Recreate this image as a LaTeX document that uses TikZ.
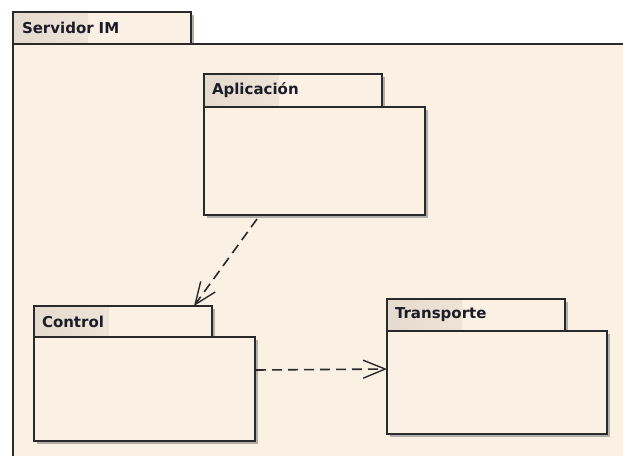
\documentclass[tikz,border=0pt]{standalone}
\usepackage{fontspec}
\setmainfont{DejaVu Sans}
\usetikzlibrary{arrows.meta,shadows}
\definecolor{cream}{HTML}{FAF0E3}
\definecolor{tabdark}{HTML}{E4DACD}
\definecolor{edge}{HTML}{2A2A2A}
\definecolor{shadowc}{HTML}{B3AEA8}
\definecolor{txt}{HTML}{1C1C28}
\tikzset{
  x=1pt, y=-1pt,
  pkgshadow/.style={drop shadow={shadow xshift=3pt, shadow yshift=-3pt, fill=shadowc, opacity=1}},
  pkgbody/.style={rectangle, draw=edge, line width=1.6pt, fill=cream, inner sep=0pt, outer sep=0pt, anchor=north west, pkgshadow},
  pkgtab/.style={rectangle, draw=edge, line width=1.6pt, fill=cream, inner xsep=8pt, inner ysep=0pt, outer sep=0pt,
    anchor=north west, pkgshadow, text=txt, align=left,
    font=\fontsize{15}{18}\selectfont\bfseries,
    path picture={\fill[left color=tabdark,right color=cream]
      (path picture bounding box.south west) rectangle ([xshift=75pt]path picture bounding box.north west);}},
  dep/.style={draw=edge, line width=1.6pt, dash pattern=on 10pt off 6pt,
    -{Straight Barb[length=22pt,width=18pt,line width=1.4pt]}}
}
\begin{document}
\begin{tikzpicture}
\useasboundingbox[fill=white] (0,0) rectangle (623,455);
\clip (0,0) rectangle (623,455);
% outer package
\node[pkgtab, minimum width=178pt, minimum height=32pt, text width=160pt] (srv-tab) at (13,12) {Servidor IM};
\node[pkgbody, minimum width=700pt, minimum height=500pt] (srv) at (13,44) {};
% Aplicacion
\node[pkgtab, minimum width=178pt, minimum height=33pt, text width=162pt] (apl-tab) at (204,74) {Aplicación};
\node[pkgbody, minimum width=221pt, minimum height=108pt] (apl) at (204,107) {};
% Control
\node[pkgtab, minimum width=178pt, minimum height=31pt, text width=162pt] (ctl-tab) at (34,306) {Control};
\node[pkgbody, minimum width=221pt, minimum height=104pt] (ctl) at (34,337) {};
% Transporte
\node[pkgtab, minimum width=178pt, minimum height=32pt, text width=162pt] (trn-tab) at (387,299) {Transporte};
\node[pkgbody, minimum width=220pt, minimum height=103pt] (trn) at (387,331) {};
% dependencies
\draw[dep] ([xshift=53pt,yshift=-4pt]apl.south west) -- ([xshift=160pt]ctl-tab.north west);
\draw[dep] ([xshift=1pt,yshift=19pt]ctl.east) -- ([yshift=13.5pt]trn.west);
\end{tikzpicture}
\end{document}
